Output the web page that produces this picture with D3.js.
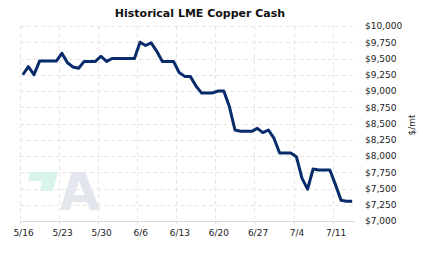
<!DOCTYPE html>
<html>
<head>
<meta charset="utf-8">
<script src="https://cdn.jsdelivr.net/npm/d3@7"></script>
<style>
  body { margin: 0; background: #fff; }
  svg { display: block; font-family: "DejaVu Sans", Verdana, sans-serif; }
  .grid line { stroke: #e6e6e6; stroke-dasharray: 4,3; shape-rendering: crispEdges; }
</style>
</head>
<body>
<div id="chart"></div>
<script>
  // daily LME copper cash, 5/16 .. 7/14 (weekends/holidays hold last value)
  var startDay = "2022-05-16";
  var prices = [
    9250, 9375, 9250, 9460, 9460, 9460, 9460,
    9580, 9435, 9370, 9350, 9455, 9455, 9455,
    9535, 9455, 9500, 9500, 9500, 9500, 9500,
    9750, 9700, 9740, 9610, 9455, 9455, 9455,
    9285, 9225, 9225, 9080, 8970, 8970, 8970,
    9000, 9000, 8760, 8400, 8380, 8380, 8380,
    8425, 8360, 8400, 8270, 8045, 8045, 8045,
    7990, 7660, 7490, 7800, 7785, 7785, 7785,
    7560, 7320, 7305, 7305
  ];
  var xTickLabels = ["5/16", "5/23", "5/30", "6/6", "6/13", "6/20", "6/27", "7/4", "7/11"];
  var yTicks = d3.range(7000, 10001, 250);

  var width = 423;
  var height = 257;
  var plotLeft = 20, plotRight = 355, plotTop = 26, plotBottom = 221;

  var parseDate = d3.timeParse("%Y-%m-%d");
  var start = parseDate(startDay);
  var data = prices.map(function(p, i) {
    // points sit mid-day
    return {date: d3.timeHour.offset(d3.timeDay.offset(start, i), 12), price: p};
  });
  var tickDates = xTickLabels.map(function(t, i) { return d3.timeDay.offset(start, i * 7); });

  var xScale = d3.scaleTime()
    .domain([start, d3.timeDay.offset(start, 60)])
    .range([plotLeft, plotRight]);

  var yScale = d3.scaleLinear()
    .domain([7000, 10000])
    .range([plotBottom, plotTop]);

  var svg = d3.select("#chart").append("svg")
    .attr("width", width)
    .attr("height", height);

  svg.append("text")
    .attr("x", 200)
    .attr("y", 17)
    .attr("text-anchor", "middle")
    .style("font-size", "11px")
    .style("font-weight", "bold")
    .style("fill", "#111")
    .text("Historical LME Copper Cash");

  // gridlines
  var grid = svg.append("g").attr("class", "grid");
  grid.selectAll(".h")
    .data(yTicks.filter(d => d > 7000)).enter()
    .append("line")
    .attr("x1", plotLeft).attr("x2", plotRight)
    .attr("y1", d => Math.round(yScale(d)) + 0.5)
    .attr("y2", d => Math.round(yScale(d)) + 0.5);
  grid.selectAll(".v")
    .data(tickDates).enter()
    .append("line")
    .attr("x1", d => Math.round(xScale(d)) + 0.5)
    .attr("x2", d => Math.round(xScale(d)) + 0.5)
    .attr("y1", plotTop).attr("y2", plotBottom);

  // watermark logo
  var logo = svg.append("g");
  logo.append("path")
    .attr("d", "M30,172 L58,172 L53,191 L40,191 L42,181 L28,181 Z")
    .style("fill", "#d9f4e9");
  logo.append("path")
    .attr("d", "M60,210 L72,172 L85,172 L100,210 L90,210 L87,202 L72,202 L70,210 Z M74.5,195 L84.5,195 L79,181 Z")
    .style("fill", "#e3e6ed")
    .style("fill-rule", "evenodd");

  // x axis
  var xAxis = d3.axisBottom(xScale)
    .tickValues(tickDates)
    .tickSize(3)
    .tickFormat((d, i) => xTickLabels[i]);

  var gx = svg.append("g")
    .attr("transform", `translate(0, ${plotBottom})`)
    .call(xAxis);
  gx.select(".domain").attr("stroke", "#d8d8d8").attr("d", `M${plotLeft},0.5H${plotRight}`);
  gx.selectAll(".tick line").attr("stroke", "#d8d8d8");
  gx.selectAll(".tick text")
    .attr("x", 3)
    .attr("y", 9)
    .style("font-family", "DejaVu Sans, Verdana, sans-serif")
    .style("font-size", "9px")
    .style("fill", "#222");

  // y axis on the right, labels only
  var yAxis = d3.axisRight(yScale)
    .tickValues(yTicks)
    .tickSize(0)
    .tickPadding(10)
    .tickFormat(d => "$" + d3.format(",")(d));

  var gy = svg.append("g")
    .attr("transform", `translate(${plotRight}, 0)`)
    .call(yAxis);
  gy.select(".domain").remove();
  gy.selectAll(".tick text")
    .style("font-family", "DejaVu Sans, Verdana, sans-serif")
    .style("font-size", "9px")
    .style("fill", "#222");

  svg.append("text")
    .attr("transform", "translate(415, 125) rotate(-90)")
    .attr("text-anchor", "middle")
    .style("font-size", "9px")
    .style("fill", "#222")
    .text("$/mt");

  var line = d3.line()
    .x(d => xScale(d.date))
    .y(d => yScale(d.price));

  svg.append("path")
    .datum(data)
    .attr("d", line)
    .style("fill", "none")
    .style("stroke", "#072b6b")
    .style("stroke-width", "3px")
    .style("stroke-linejoin", "round");
</script>
</body>
</html>
